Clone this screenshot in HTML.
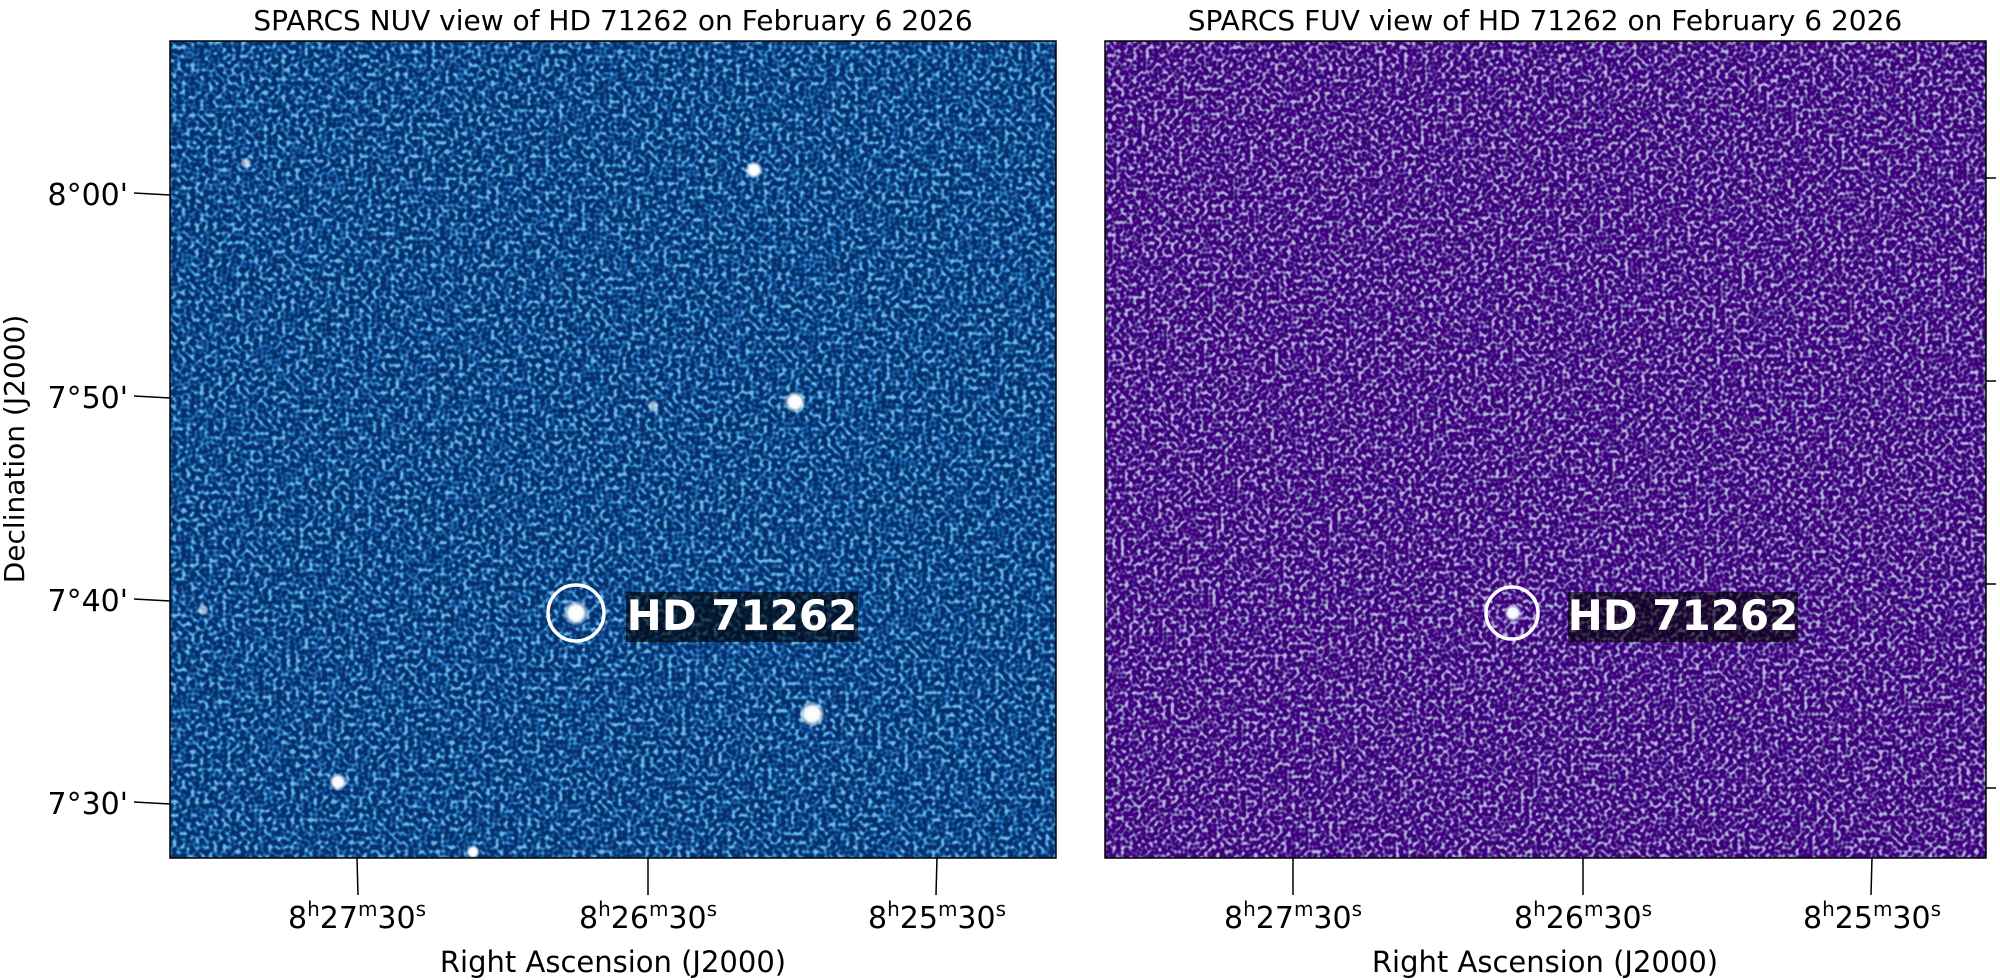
<!DOCTYPE html>
<html><head><meta charset="utf-8"><style>
html,body{margin:0;padding:0;background:#fff;}
svg{display:block;font-family:"DejaVu Sans","Liberation Sans",sans-serif;}
</style></head><body>
<svg width="2000" height="980" viewBox="0 0 2000 980" xmlns="http://www.w3.org/2000/svg">
<defs>
<filter id="nuv" x="0" y="0" width="100%" height="100%" filterUnits="objectBoundingBox" color-interpolation-filters="sRGB">
<feTurbulence type="fractalNoise" baseFrequency="0.22" numOctaves="1" seed="3"/>
<feColorMatrix type="matrix" values="1 0 0 0 0  1 0 0 0 0  1 0 0 0 0  0 0 0 0 1"/>
<feComponentTransfer><feFuncR type="linear" slope="2.6" intercept="-0.85"/><feFuncG type="linear" slope="2.6" intercept="-0.85"/><feFuncB type="linear" slope="2.6" intercept="-0.85"/></feComponentTransfer>
<feComponentTransfer>
<feFuncR type="table" tableValues="0.03 0.03 0.04 0.08 0.13 0.26 0.45"/>
<feFuncG type="table" tableValues="0.19 0.19 0.23 0.32 0.44 0.57 0.70"/>
<feFuncB type="table" tableValues="0.42 0.42 0.48 0.60 0.71 0.78 0.85"/>
</feComponentTransfer>
</filter>
<filter id="fuv" x="0" y="0" width="100%" height="100%" filterUnits="objectBoundingBox" color-interpolation-filters="sRGB">
<feTurbulence type="fractalNoise" baseFrequency="0.24" numOctaves="1" seed="9"/>
<feColorMatrix type="matrix" values="1 0 0 0 0  1 0 0 0 0  1 0 0 0 0  0 0 0 0 1"/>
<feComponentTransfer><feFuncR type="linear" slope="2.6" intercept="-0.85"/><feFuncG type="linear" slope="2.6" intercept="-0.85"/><feFuncB type="linear" slope="2.6" intercept="-0.85"/></feComponentTransfer>
<feComponentTransfer>
<feFuncR type="table" tableValues="0.25 0.25 0.26 0.33 0.45 0.58 0.72"/>
<feFuncG type="table" tableValues="0.0 0.0 0.02 0.15 0.38 0.55 0.70"/>
<feFuncB type="table" tableValues="0.49 0.49 0.50 0.57 0.68 0.77 0.85"/>
</feComponentTransfer>
</filter>
<radialGradient id="star"><stop offset="0" stop-color="#fff"/><stop offset="0.55" stop-color="#f4f9ff"/><stop offset="1" stop-color="#fff" stop-opacity="0"/></radialGradient>
</defs>

<rect x="170" y="41" width="886" height="817" fill="#0d4a8e" filter="url(#nuv)"/>
<g fill="url(#star)">
<circle cx="754" cy="170" r="9"/><circle cx="795" cy="402" r="11"/><circle cx="812" cy="714" r="13"/>
<circle cx="338" cy="782" r="9"/><circle cx="473" cy="852" r="7"/><circle cx="576" cy="613" r="13"/>
<circle cx="246" cy="163" r="6" opacity="0.6"/><circle cx="203" cy="610" r="6" opacity="0.6"/><circle cx="653" cy="406" r="6" opacity="0.6"/>
</g>
<circle cx="576" cy="613" r="28" fill="none" stroke="#fff" stroke-width="3.5"/>
<rect x="626" y="592" width="232" height="50" fill="#000" opacity="0.62"/>
<text x="742" y="630" text-anchor="middle" font-size="42" font-weight="bold" fill="#fff">HD 71262</text>
<rect x="170" y="41" width="886" height="817" fill="none" stroke="#000" stroke-width="1.5"/>
<text x="613" y="30" text-anchor="middle" font-size="28">SPARCS NUV view of HD 71262 on February 6 2026</text>
<g stroke="#000" stroke-width="1.5">
<line x1="134" y1="193" x2="170" y2="195"/><line x1="134" y1="396" x2="170" y2="398"/>
<line x1="134" y1="599" x2="170" y2="601"/><line x1="134" y1="802" x2="170" y2="804"/>
<line x1="357" y1="858" x2="358" y2="895"/><line x1="648" y1="858" x2="648" y2="895"/><line x1="937" y1="858" x2="936" y2="895"/>
</g>
<g font-size="30" text-anchor="end">
<text x="128" y="205">8°00'</text><text x="128" y="408">7°50'</text><text x="128" y="611">7°40'</text><text x="128" y="814">7°30'</text>
</g>
<text transform="translate(24,449) rotate(-90)" text-anchor="middle" font-size="28">Declination (J2000)</text>
<g font-size="30" text-anchor="middle">
<text x="357" y="928">8<tspan font-size="20" dy="-12">h</tspan><tspan dy="12">27</tspan><tspan font-size="20" dy="-12">m</tspan><tspan dy="12">30</tspan><tspan font-size="20" dy="-12">s</tspan></text>
<text x="648" y="928">8<tspan font-size="20" dy="-12">h</tspan><tspan dy="12">26</tspan><tspan font-size="20" dy="-12">m</tspan><tspan dy="12">30</tspan><tspan font-size="20" dy="-12">s</tspan></text>
<text x="937" y="928">8<tspan font-size="20" dy="-12">h</tspan><tspan dy="12">25</tspan><tspan font-size="20" dy="-12">m</tspan><tspan dy="12">30</tspan><tspan font-size="20" dy="-12">s</tspan></text>
<text x="613" y="972" font-size="29">Right Ascension (J2000)</text>
</g>

<rect x="1105" y="41" width="881" height="817" fill="#4a1490" filter="url(#fuv)"/>
<circle cx="1513" cy="613" r="9" fill="url(#star)"/>
<circle cx="1512" cy="613" r="26" fill="none" stroke="#fff" stroke-width="3.5"/>
<rect x="1568" y="592" width="230" height="50" fill="#000" opacity="0.62"/>
<text x="1683" y="630" text-anchor="middle" font-size="42" font-weight="bold" fill="#fff">HD 71262</text>
<rect x="1105" y="41" width="881" height="817" fill="none" stroke="#000" stroke-width="1.5"/>
<text x="1545" y="30" text-anchor="middle" font-size="28">SPARCS FUV view of HD 71262 on February 6 2026</text>
<g stroke="#000" stroke-width="1.5">
<line x1="1986" y1="178" x2="1996" y2="178"/><line x1="1986" y1="381" x2="1996" y2="381"/>
<line x1="1986" y1="584" x2="1996" y2="584"/><line x1="1986" y1="788" x2="1996" y2="788"/>
<line x1="1293" y1="858" x2="1293" y2="895"/><line x1="1583" y1="858" x2="1583" y2="895"/><line x1="1872" y1="858" x2="1871" y2="895"/>
</g>
<g font-size="30" text-anchor="middle">
<text x="1293" y="928">8<tspan font-size="20" dy="-12">h</tspan><tspan dy="12">27</tspan><tspan font-size="20" dy="-12">m</tspan><tspan dy="12">30</tspan><tspan font-size="20" dy="-12">s</tspan></text>
<text x="1583" y="928">8<tspan font-size="20" dy="-12">h</tspan><tspan dy="12">26</tspan><tspan font-size="20" dy="-12">m</tspan><tspan dy="12">30</tspan><tspan font-size="20" dy="-12">s</tspan></text>
<text x="1872" y="928">8<tspan font-size="20" dy="-12">h</tspan><tspan dy="12">25</tspan><tspan font-size="20" dy="-12">m</tspan><tspan dy="12">30</tspan><tspan font-size="20" dy="-12">s</tspan></text>
<text x="1545" y="972" font-size="29">Right Ascension (J2000)</text>
</g>
</svg>
</body></html>
